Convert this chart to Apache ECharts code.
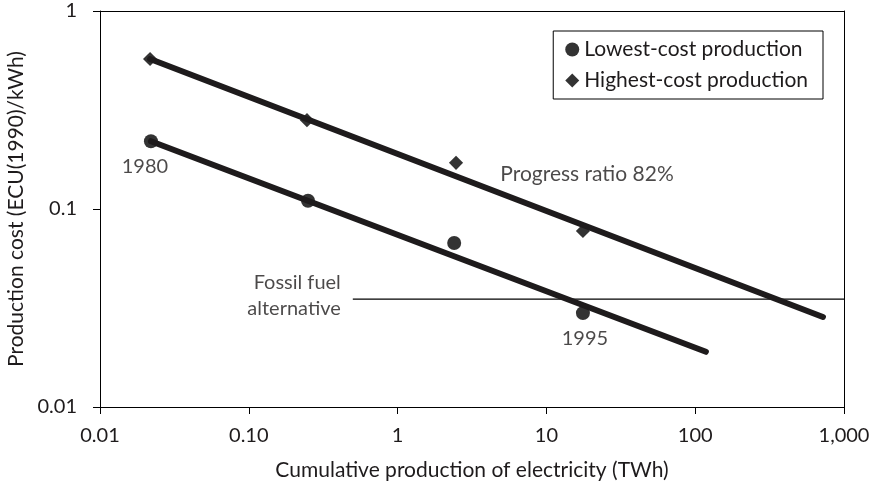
<!DOCTYPE html>
<html><head><meta charset="utf-8">
<script src="https://cdn.jsdelivr.net/npm/echarts@6/dist/echarts.min.js"></script>
<style>html,body{margin:0;padding:0;background:#fff}#c{width:870px;height:488px}</style>
</head><body><div id="c"></div>
<script>
// Data
const lowestX = [0.022, 0.25, 2.4, 17.6];
const lowestY = [0.220, 0.110, 0.0673, 0.0298];
const highestX = [0.0217, 0.246, 2.47, 17.6];
const highestY = [0.572, 0.281, 0.171, 0.0774];
const lowFitX = [0.022, 118];
const lowFitY = [0.220, 0.019];
const highFitX = [0.0217, 722];
const highFitY = [0.572, 0.0285];
const fossilX = [0.5, 1000];
const fossilY = [0.0351, 0.0351];
const xTickLabels = {"0.01":"0.01","0.1":"0.10","1":"1","10":"10","100":"100","1000":"1,000"};
const yTickLabels = {"0.01":"0.01","0.1":"0.1","1":"1"};

const FONT = 'Lato';
const FS = 20;
const FL = 21;
const INK = '#1e1b1c';
const zip = (a, b) => a.map((v, i) => [v, b[i]]);
const key = v => String(+v.toPrecision(6));

const chart = echarts.init(document.getElementById('c'), null, {renderer: 'canvas'});
chart.setOption({
  animation: false,
  textStyle: {fontFamily: FONT, color: INK},
  grid: {left: 100, right: 26, top: 11, bottom: 81, containLabel: false, outerBoundsMode: 'none'},
  xAxis: [{
    type: 'log', logBase: 10, min: 0.01, max: 1000,
    name: 'Cumulative production of electricity (TWh)', nameLocation: 'middle', nameGap: 53,
    nameTextStyle: {fontFamily: FONT, fontSize: FL, color: INK},
    axisLine: {lineStyle: {color: '#000', width: 1}},
    axisTick: {show: true, length: 7, lineStyle: {color: '#000'}},
    axisLabel: {fontFamily: FONT, fontSize: FS, color: INK, margin: 19,
      formatter: v => xTickLabels[key(v)] || ''},
    splitLine: {show: false}, minorTick: {show: false}
  }, {
    type: 'log', logBase: 10, min: 0.01, max: 1000, position: 'top',
    axisLine: {show: true, lineStyle: {color: '#000', width: 1}},
    axisTick: {show: false}, axisLabel: {show: false}, splitLine: {show: false}
  }],
  yAxis: [{
    type: 'log', logBase: 10, min: 0.01, max: 1,
    name: 'Production cost (ECU(1990)/kWh)', nameLocation: 'middle', nameGap: 72, nameRotate: 90,
    nameTextStyle: {fontFamily: FONT, fontSize: FL, color: INK},
    axisLine: {show: true, lineStyle: {color: '#000', width: 1}},
    axisTick: {show: true, length: 7, lineStyle: {color: '#000'}},
    axisLabel: {fontFamily: FONT, fontSize: FS, color: INK, margin: 23,
      formatter: v => yTickLabels[key(v)] || ''},
    splitLine: {show: false}
  }, {
    type: 'log', logBase: 10, min: 0.01, max: 1, position: 'right',
    axisLine: {show: true, lineStyle: {color: '#000', width: 1}},
    axisTick: {show: false}, axisLabel: {show: false}, splitLine: {show: false}
  }],
  legend: {
    show: true, right: 47, top: 31, orient: 'vertical', itemGap: 10,
    padding: [8, 15, 8, 12],
    borderColor: '#000', borderWidth: 1, backgroundColor: '#fff',
    itemWidth: 14, itemHeight: 14,
    textStyle: {fontFamily: FONT, fontSize: FL, color: INK},
    data: [
      {name: 'Lowest-cost production', icon: 'circle'},
      {name: 'Highest-cost production', icon: 'diamond'}
    ]
  },
  series: [
    {
      name: 'Lowest-cost production', type: 'scatter', symbol: 'circle', symbolSize: 14,
      itemStyle: {color: '#000'}, z: 3,
      data: zip(lowestX, lowestY).map((d, i) => ({
        value: d,
        label: (i === 0 || i === 3) ? {show: true, position: 'bottom', distance: 8,
          formatter: i === 0 ? '1980' : '1995', fontFamily: FONT, fontSize: FS, color: INK,
          offset: i === 0 ? [-6, 0] : [2, 0]} : {show: false}
      }))
    },
    {
      name: 'Highest-cost production', type: 'scatter', symbol: 'rect', symbolSize: 10, symbolRotate: 45,
      itemStyle: {color: '#000'}, z: 3,
      data: zip(highestX, highestY)
    },
    {
      type: 'line', data: zip(highFitX, highFitY), showSymbol: false, symbol: 'none', z: 4,
      lineStyle: {color: INK, width: 6, cap: 'round'}
    },
    {
      type: 'line', data: zip(lowFitX, lowFitY), showSymbol: false, symbol: 'none', z: 4,
      lineStyle: {color: INK, width: 6, cap: 'round'}
    },
    {
      type: 'line', data: zip(fossilX, fossilY), showSymbol: false, symbol: 'none', z: 2,
      lineStyle: {color: '#000', width: 1.2}
    },
    {
      type: 'scatter', symbolSize: 0, silent: true, z: 5,
      data: [
        {value: [4.9, 0.150], label: {show: true, position: 'right', distance: 0,
          formatter: 'Progress ratio 82%', fontFamily: FONT, fontSize: FL, color: INK}},
        {value: [0.5, 0.0351], label: {show: true, position: 'left', distance: 12,
          formatter: 'Fossil fuel\nalternative', align: 'right', lineHeight: 26,
          offset: [0, -3],
          fontFamily: FONT, fontSize: FS, color: INK}}
      ]
    }
  ]
});
</script></body></html>
